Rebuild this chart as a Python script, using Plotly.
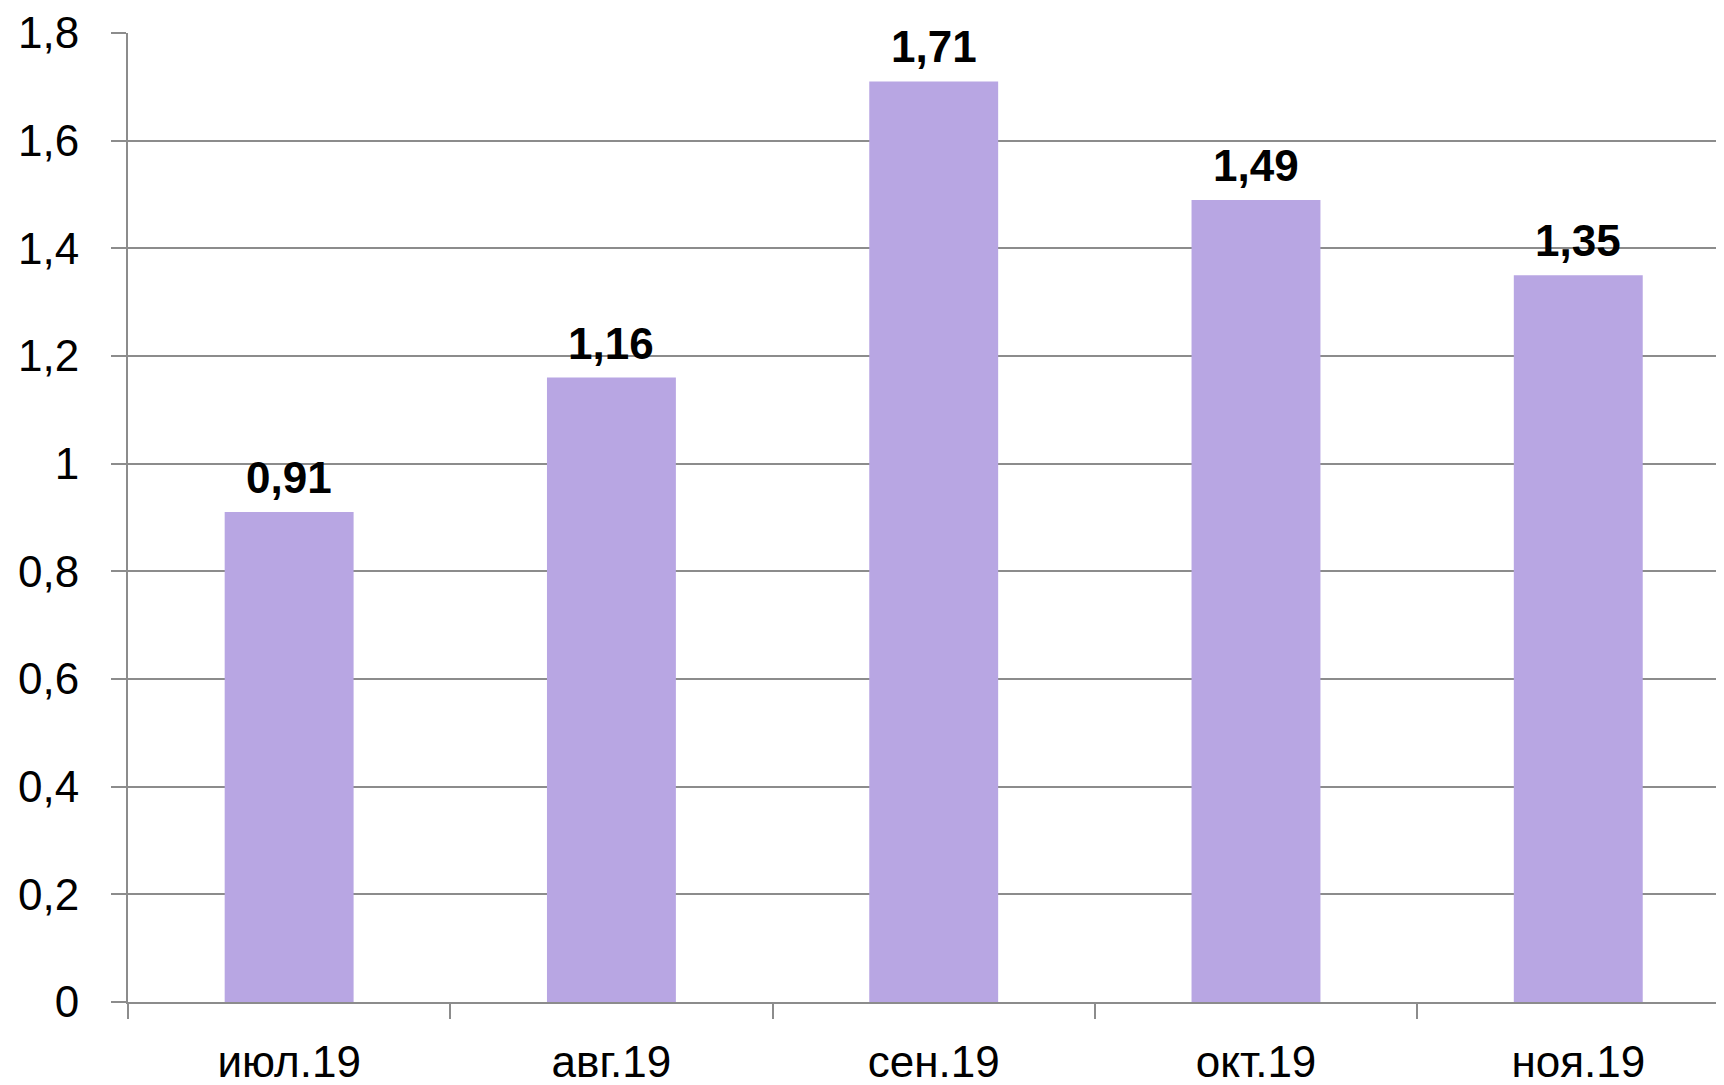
import plotly.graph_objects as go

categories = ["июл.19", "авг.19", "сен.19", "окт.19", "ноя.19"]
values = [0.91, 1.16, 1.71, 1.49, 1.35]
value_labels = ["0,91", "1,16", "1,71", "1,49", "1,35"]
y_tickvals = [0, 0.2, 0.4, 0.6, 0.8, 1.0, 1.2, 1.4, 1.6, 1.8]
y_ticktext = ["0", "0,2", "0,4", "0,6", "0,8", "1", "1,2", "1,4", "1,6", "1,8"]

FONT = "Liberation Sans"
GRID = "#8c8c8c"

fig = go.Figure(
    go.Bar(
        x=categories,
        y=values,
        marker=dict(color="#b8a6e3", line=dict(width=0)),
        cliponaxis=False,
    )
)

for cat, val, lab in zip(categories, values, value_labels):
    fig.add_annotation(
        x=cat,
        y=val,
        text=lab,
        showarrow=False,
        yanchor="bottom",
        yshift=8,
        font=dict(family=FONT, size=44, color="#000000", weight="bold"),
    )

fig.update_layout(
    width=1724,
    height=1077,
    margin=dict(l=120, r=0, t=25, b=83),
    plot_bgcolor="#ffffff",
    paper_bgcolor="#ffffff",
    bargap=0.6,
    showlegend=False,
    font=dict(family=FONT, color="#000000"),
)

fig.update_xaxes(
    type="category",
    range=[-0.5, 4.477],
    showgrid=False,
    showline=True,
    linecolor=GRID,
    linewidth=2,
    ticks="outside",
    tickson="boundaries",
    ticklen=15,
    tickwidth=1.5,
    tickcolor=GRID,
    tickfont=dict(family=FONT, size=44, color="#000000"),
    ticklabelstandoff=20,
    zeroline=False,
)

fig.update_yaxes(
    range=[0, 1.8],
    tickvals=y_tickvals,
    ticktext=y_ticktext,
    showgrid=True,
    gridcolor=GRID,
    gridwidth=2,
    showline=True,
    linecolor=GRID,
    linewidth=2,
    ticks="outside",
    ticklen=15,
    tickwidth=2,
    tickcolor=GRID,
    tickfont=dict(family=FONT, size=44, color="#000000"),
    ticklabelstandoff=23,
    zeroline=False,
)

fig.write_html("out.html")
